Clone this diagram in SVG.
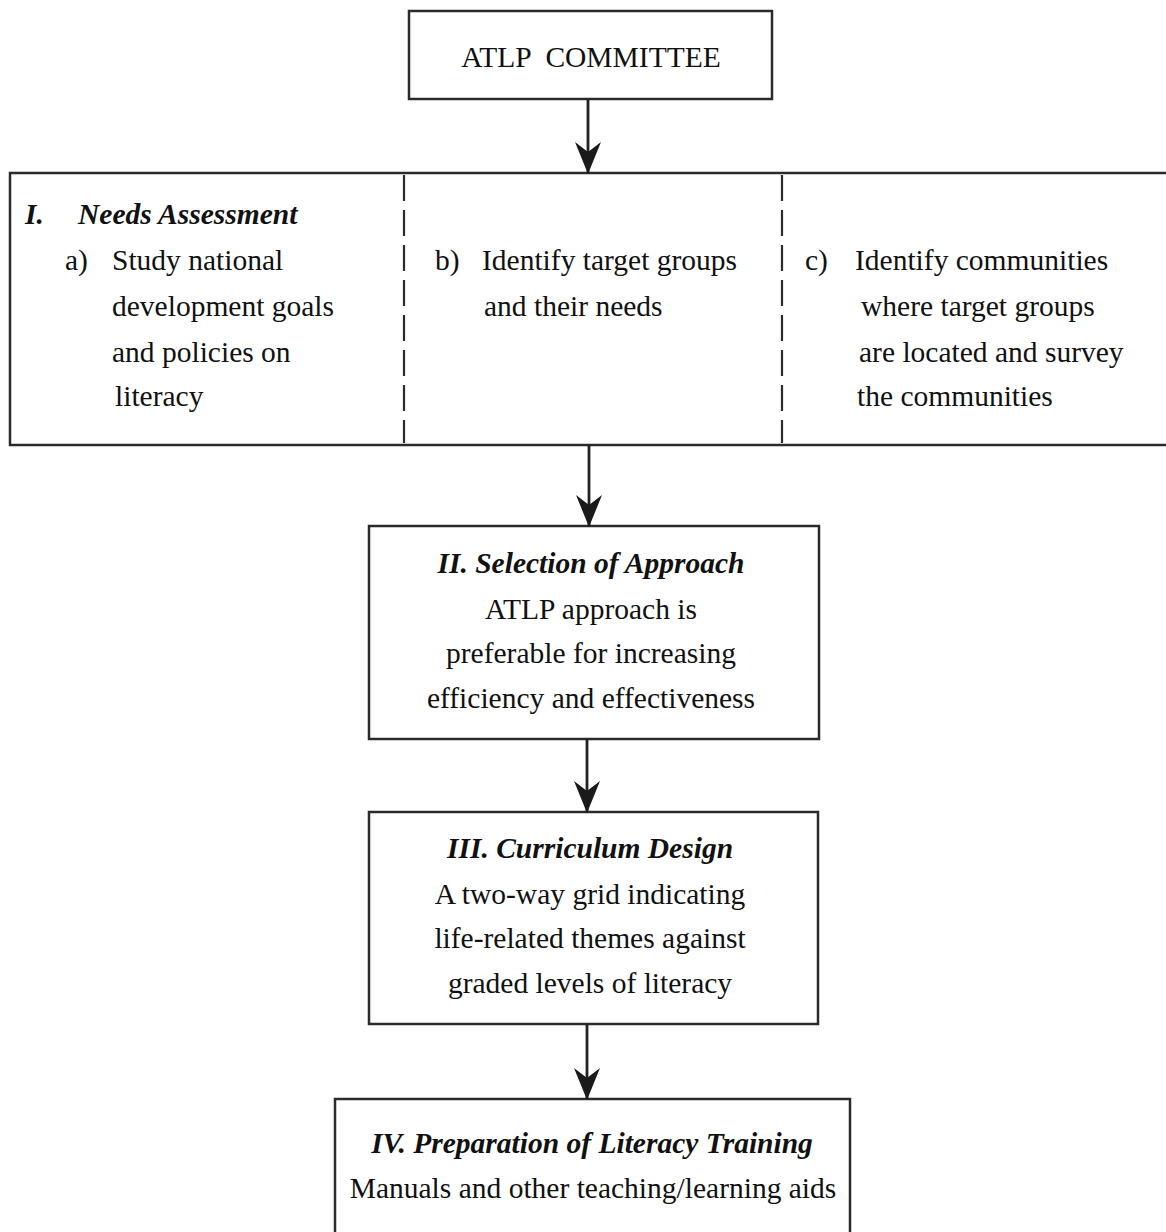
<svg xmlns="http://www.w3.org/2000/svg" width="1166" height="1232" viewBox="0 0 1166 1232">
  <style>
    .box { fill: #ffffff; stroke: #2b2b2b; stroke-width: 2.5; }
    .divider { stroke: #2b2b2b; stroke-width: 2.2; stroke-dasharray: 26 9; fill: none; }
    .link { stroke: #222222; stroke-width: 2.8; fill: none; marker-end: url(#arrow); }
    text { font-family: "Liberation Serif", "Times New Roman", serif; font-size: 29.5px; fill: #111111; }
    .title { font-weight: bold; font-style: italic; }
    .mid { text-anchor: middle; }
    .pre { white-space: pre; }
  </style>
  <defs>
    <marker id="arrow" markerUnits="userSpaceOnUse" markerWidth="32" markerHeight="26" viewBox="0 0 32 26" refX="31" refY="13" orient="auto">
      <path d="M0,0 L32,13 L0,26 L10,13 Z" fill="#1a1a1a"/>
    </marker>
  </defs>

  <rect width="1166" height="1232" fill="#ffffff"/>

  <!-- committee at the top -->
  <g id="committee">
    <rect class="box" x="409" y="11" width="363" height="88"/>
    <text class="mid pre" x="591" y="67" xml:space="preserve">ATLP  COMMITTEE</text>
  </g>

  <!-- stage I: needs assessment, split in three columns -->
  <g id="needs-assessment">
    <rect class="box" x="10" y="173" width="1170" height="272"/>
    <line class="divider" x1="404" y1="175" x2="404" y2="443"/>
    <line class="divider" x1="782" y1="175" x2="782" y2="443"/>
    <text class="title" x="25" y="224">I.</text>
    <text class="title" x="78" y="224">Needs Assessment</text>
    <text x="65" y="270">a)</text>
    <text x="112" y="270">Study national</text>
    <text x="112" y="316">development goals</text>
    <text x="112" y="362">and policies on</text>
    <text x="115" y="406">literacy</text>

    <text x="435" y="270">b)</text>
    <text x="482" y="270">Identify target groups</text>
    <text x="484" y="316">and their needs</text>

    <text x="805" y="270">c)</text>
    <text x="855" y="270">Identify communities</text>
    <text x="861" y="316">where target groups</text>
    <text x="859" y="362">are located and survey</text>
    <text x="857" y="406">the communities</text>
  </g>

  <!-- stage II -->
  <g id="selection-of-approach">
    <rect class="box" x="369" y="526" width="450" height="213"/>
    <text class="title mid" x="591" y="573">II. Selection of Approach</text>
    <text class="mid" x="591" y="619">ATLP approach is</text>
    <text class="mid" x="591" y="663">preferable for increasing</text>
    <text class="mid" x="591" y="708">efficiency and effectiveness</text>
  </g>

  <!-- stage III -->
  <g id="curriculum-design">
    <rect class="box" x="369" y="812" width="449" height="212"/>
    <text class="title mid" x="590" y="858">III. Curriculum Design</text>
    <text class="mid" x="590" y="904">A two-way grid indicating</text>
    <text class="mid" x="590" y="948">life-related themes against</text>
    <text class="mid" x="590" y="993">graded levels of literacy</text>
  </g>

  <!-- stage IV, runs past the lower edge -->
  <g id="literacy-training">
    <rect class="box" x="335" y="1099" width="515" height="150"/>
    <text class="title mid" x="592" y="1153">IV. Preparation of Literacy Training</text>
    <text class="mid" x="593" y="1198">Manuals and other teaching/learning aids</text>
  </g>

  <!-- downward flow arrows -->
  <g id="connectors">
    <path class="link" d="M588,99 V173"/>
    <path class="link" d="M589,445 V526"/>
    <path class="link" d="M587,739 V812"/>
    <path class="link" d="M587,1024 V1099"/>
  </g>
</svg>
